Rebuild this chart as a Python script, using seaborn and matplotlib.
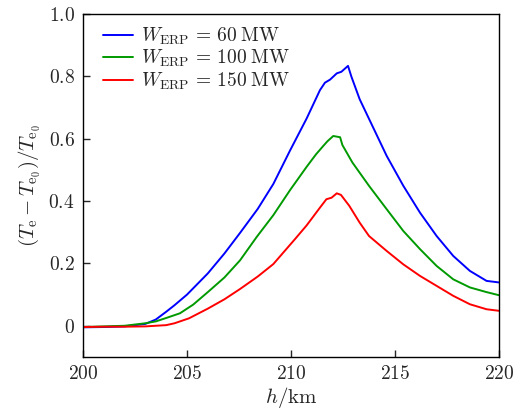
import matplotlib
matplotlib.use("Agg")
import matplotlib.pyplot as plt
import seaborn as sns
import pandas as pd

# ---- data ----
h_60 = [200, 201, 202, 203, 203.5, 204, 204.4, 205, 206, 206.8, 207.55, 208.4, 209.15, 209.95,
        210.75, 211.39, 211.63, 211.88, 212.2, 212.42, 212.74, 212.9, 213.3, 213.8, 214.6, 215.4,
        216.2, 217.0, 217.8, 218.6, 219.4, 220]
v_60 = [-0.005, -0.004, -0.002, 0.006, 0.02, 0.045, 0.066, 0.10, 0.168, 0.232, 0.298, 0.375, 0.455,
        0.562, 0.665, 0.756, 0.78, 0.79, 0.81, 0.815, 0.834, 0.80, 0.727, 0.657, 0.545, 0.449,
        0.363, 0.288, 0.224, 0.176, 0.144, 0.139]

h_100 = [200, 201, 202, 203, 203.5, 204, 204.66, 205.3, 206, 206.8, 207.55, 208.35, 209.15, 209.95,
         210.75, 211.2, 211.55, 211.75, 212.03, 212.36, 212.47, 212.95, 213.75, 214.6, 215.4, 216.2,
         217.0, 217.8, 218.6, 219.4, 220]
v_100 = [-0.004, -0.002, 0.0, 0.008, 0.014, 0.025, 0.04, 0.068, 0.108, 0.155, 0.21, 0.285, 0.355,
         0.435, 0.51, 0.55, 0.577, 0.592, 0.609, 0.605, 0.58, 0.524, 0.449, 0.374, 0.304, 0.246,
         0.192, 0.149, 0.123, 0.108, 0.098]

h_150 = [200, 201, 202, 203, 204, 204.4, 205.1, 206, 206.8, 207.55, 208.4, 209.15, 210.19, 210.75,
         211.39, 211.7, 211.95, 212.2, 212.4, 212.8, 213.3, 213.75, 214.6, 215.4, 216.2, 217.0,
         217.8, 218.6, 219.4, 220]
v_150 = [-0.004, -0.003, -0.003, -0.002, 0.002, 0.008, 0.024, 0.055, 0.085, 0.118, 0.158, 0.198,
         0.278, 0.322, 0.379, 0.406, 0.411, 0.425, 0.42, 0.385, 0.331, 0.288, 0.240, 0.197, 0.160,
         0.128, 0.096, 0.069, 0.053, 0.048]

series_labels = [r"$W_{\mathrm{ERP}}\,=\,60\;\mathrm{MW}$",
                 r"$W_{\mathrm{ERP}}\,=\,100\;\mathrm{MW}$",
                 r"$W_{\mathrm{ERP}}\,=\,150\;\mathrm{MW}$"]
colors = ["#0000ff", "#009a00", "#ff0000"]

x_ticks = [200, 205, 210, 215, 220]
x_ticklabels = ["200", "205", "210", "215", "220"]
y_ticks = [0, 0.2, 0.4, 0.6, 0.8, 1.0]
y_ticklabels = ["0", "0.2", "0.4", "0.6", "0.8", "1.0"]

# ---- build table ----
frames = []
for hh, vv, lab in zip([h_60, h_100, h_150], [v_60, v_100, v_150], series_labels):
    frames.append(pd.DataFrame({"h": hh, "v": vv, "series": lab}))
df = pd.concat(frames, ignore_index=True)

sns.set_style("ticks")
plt.rcParams["font.family"] = ["DejaVu Serif"]
plt.rcParams["mathtext.fontset"] = "cm"

fig = plt.figure(figsize=(5.22, 4.16), dpi=100)
ax = fig.add_axes([0.159, 0.142, 0.797, 0.824])

sns.lineplot(data=df, x="h", y="v", hue="series", palette=colors, linewidth=1.4,
             ax=ax, sort=False, estimator=None)

ax.set_xlim(200, 220)
ax.set_ylim(-0.1, 1.0)
ax.set_xticks(x_ticks)
ax.set_xticklabels(["$" + t + "$" for t in x_ticklabels])
ax.set_yticks(y_ticks)
ax.set_yticklabels(["$" + t + "$" for t in y_ticklabels])
ax.tick_params(direction="in", length=5, width=1, labelsize=14, top=False, right=False, pad=6)
for s in ax.spines.values():
    s.set_visible(True)
    s.set_linewidth(1.0)
    s.set_color("black")

ax.set_xlabel(r"$h/\mathrm{km}$", fontsize=15, labelpad=1)
ax.set_ylabel(r"$(T_{\mathrm{e}}-T_{\mathrm{e}_0})/T_{\mathrm{e}_0}$", fontsize=15, labelpad=4)

leg = ax.legend(loc="upper left", frameon=False, fontsize=14, handlelength=1.55,
                handletextpad=0.4, labelspacing=0.05, borderaxespad=0.2,
                bbox_to_anchor=(0.02, 1.0))

fig.savefig("out.png", dpi=100)
